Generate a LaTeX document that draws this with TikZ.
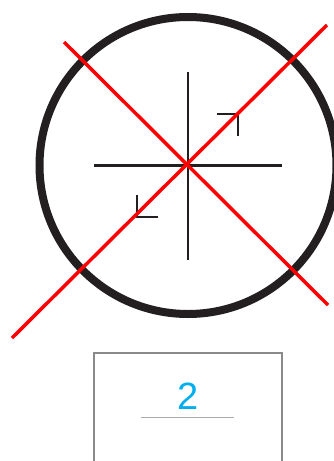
\documentclass[tikz,border=0pt]{standalone}
\usepackage{fontspec}
\setsansfont{Liberation Sans}
\usetikzlibrary{calc}

\definecolor{ringink}{HTML}{231F20}
\definecolor{boxgray}{HTML}{8A8A8D}
\definecolor{rulegray}{HTML}{AAAAAA}
\definecolor{numcyan}{HTML}{00AEEF}

\begin{document}
\begin{tikzpicture}[x=1pt,y=-1pt,
    ring/.style={draw=ringink, line width=8pt},
    hair/.style={draw=ringink, line width=2.5pt},
    cutline/.style={draw=red, line width=3.5pt},
    boxline/.style={draw=boxgray, line width=2pt},
    numtext/.style={text=numcyan, font=\sffamily\fontsize{38}{40}\selectfont, inner sep=0pt}]
    \useasboundingbox (0,0) rectangle (334,461);
    \clip (0,0) rectangle (334,461);

    \coordinate (c) at (188,165.5);
    \draw[ring] (c) circle (148.5);

    % cross through the centre
    \draw[hair] ($(c)+(0,-94)$) -- ($(c)+(0,94)$);
    \draw[hair] ($(c)+(-94,0)$) -- ($(c)+(94,0)$);

    % two corner ticks
    \draw[hair] ($(c)+(29,-51.5)$) -- ($(c)+(50,-51.5)$) -- ($(c)+(50,-29.5)$);
    \draw[hair] ($(c)+(-51,29.5)$) -- ($(c)+(-51,51.5)$) -- ($(c)+(-30,51.5)$);

    % red strike-through
    \coordinate (a1) at (64,42);
    \coordinate (a2) at (328,305);
    \coordinate (b1) at (12,338);
    \coordinate (b2) at (327,25);
    \draw[cutline] (a1) -- (a2);
    \draw[cutline] (b1) -- (b2);

    % label box below
    \draw[boxline] (94,470) -- (94,353) -- (282,353) -- (282,470);
    \node[numtext] (num) at (188,396) {2};
    \draw[draw=rulegray, line width=1pt] (141,417) -- (234,417);
\end{tikzpicture}
\end{document}
